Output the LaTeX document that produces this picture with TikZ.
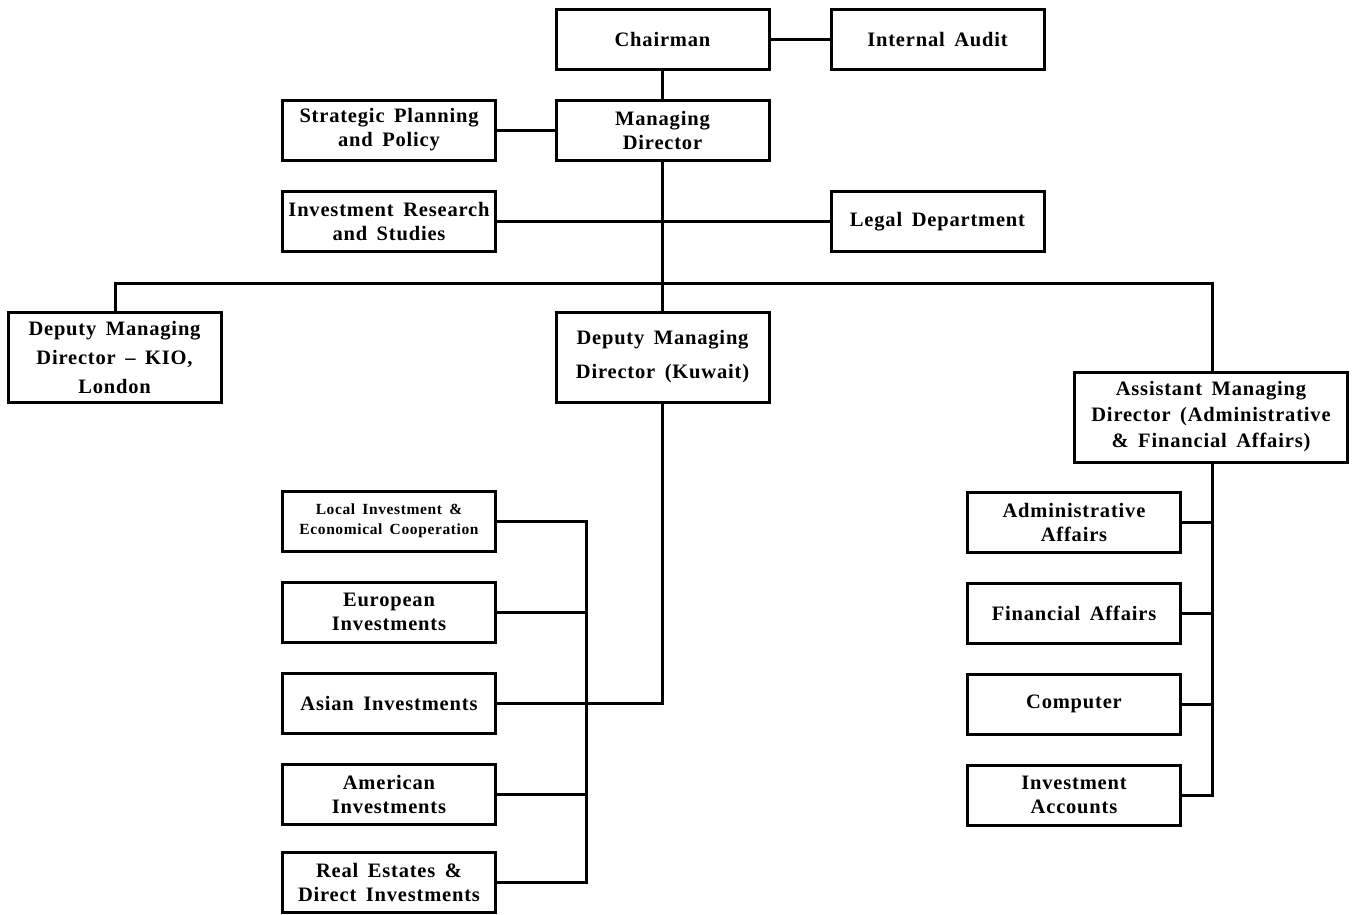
\documentclass[tikz,border=0pt]{standalone}
\usepackage{fontspec}
\setmainfont{Liberation Serif}
\newfontfamily\boxfont[LetterSpace=4,WordSpace=1.6]{Liberation Serif}
\begin{document}
\begin{tikzpicture}[x=1pt,y=-1pt,
  box/.style={draw,line width=3pt,rectangle,align=center,inner sep=0pt,
    minimum width=213pt,minimum height=60pt,font=\boxfont\fontsize{20.5}{24}\selectfont\bfseries},
  link/.style={line width=3pt}]
\useasboundingbox (0,0) rectangle (1352,914);
\node[box] (chair) at (662.5,39.5) {Chairman};
\node[box] (audit) at (937.5,39.5) {Internal Audit};
\node[box] (md) at (662.5,130) {Managing\\Director};
\node[box] (strat) at (389,130) {Strategic Planning\\and Policy};
\node[box] (res) at (389,221.5) {Investment Research\\and Studies};
\node[box] (legal) at (937.5,221.5) {Legal Department};
\node[box,minimum height=90pt,font=\boxfont\fontsize{20.5}{29}\selectfont\bfseries] (dmdl) at (114.5,357) {Deputy Managing\\Director – KIO,\\London};
\node[box,minimum height=90pt,font=\boxfont\fontsize{20.5}{34}\selectfont\bfseries] (dmdk) at (662.5,357) {Deputy Managing\\Director (Kuwait)};
\node[box,minimum width=273pt,minimum height=90pt,font=\boxfont\fontsize{20.5}{26}\selectfont\bfseries] (amd) at (1211,417) {Assistant Managing\\Director (Administrative\\\& Financial Affairs)};
\node[box] (adm) at (1074,522) {Administrative\\Affairs};
\node[box] (fin) at (1074,613) {Financial Affairs};
\node[box] (comp) at (1074,704) {Computer};
\node[box] (acc) at (1074,795) {Investment\\Accounts};
\node[box,font=\boxfont\fontsize{15.5}{20}\selectfont\bfseries] (loc) at (389,521) {Local Investment \&\\Economical Cooperation};
\node[box] (eur) at (389,612) {European\\Investments};
\node[box] (asia) at (389,703) {Asian Investments};
\node[box] (amer) at (389,794) {American\\Investments};
\node[box] (real) at (389,882.5) {Real Estates \&\\Direct Investments};
% connectors
\draw[link] (chair) -- (audit);
\draw[link] (chair) -- (md);
\draw[link] (strat) -- (md);
\draw[link] (md) -- (dmdk);
\draw[link] (res) -- (legal);
\coordinate (busl) at (115,283);
\coordinate (busr) at (1212,283);
\draw[link] (dmdl.north -| busl) -- (busl) -- (busr) -- (amd.north -| busr);
\coordinate (kcorner) at (662.5,703);
\draw[link] (dmdk) -- (kcorner) -- (asia.east);
\coordinate (lt) at (586,521);
\coordinate (lb) at (586,882.5);
\draw[link] (loc.east) -- (lt) -- (lb) -- (real.east);
\draw[link] (eur.east) -- (eur.east -| lt);
\draw[link] (amer.east) -- (amer.east -| lt);
\coordinate (rb) at (1212,795);
\draw[link] (amd.south -| rb) -- (rb) -- (acc.east);
\draw[link] (adm.east) -- (adm.east -| rb);
\draw[link] (fin.east) -- (fin.east -| rb);
\draw[link] (comp.east) -- (comp.east -| rb);
\end{tikzpicture}
\end{document}
